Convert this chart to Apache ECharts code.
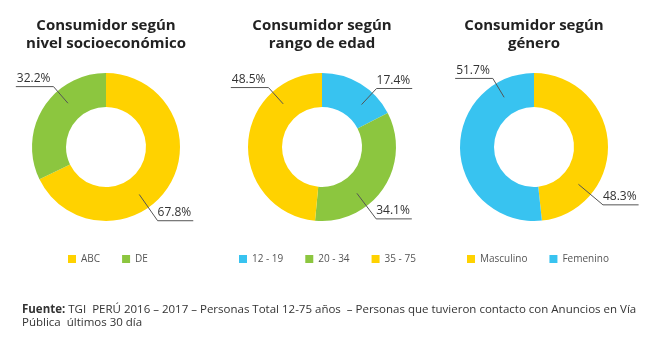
<!DOCTYPE html>
<html>
<head>
<meta charset="utf-8">
<script src="https://cdn.jsdelivr.net/npm/echarts@6/dist/echarts.min.js"></script>
<style>
  html, body { margin: 0; padding: 0; background: #fff; }
  #chart { width: 648px; height: 352px; }
</style>
</head>
<body>
<div id="chart"></div>
<script>
  // valores (%)
  var nseNames = ['ABC', 'DE'];
  var nseValues = [67.8, 32.2];
  var edadNames = ['12 - 19', '20 - 34', '35 - 75'];
  var edadValues = [17.4, 34.1, 48.5];
  var generoNames = ['Masculino', 'Femenino'];
  var generoValues = [48.3, 51.7];

  var amarillo = '#FFD200', verde = '#8CC63F', celeste = '#38C3F0';
  var font = "'Open Sans', sans-serif";

  var chartDom = document.getElementById('chart');
  var myChart = echarts.init(chartDom);

  function buildData(names, values, colors) {
    return names.map(function (n, i) {
      return { name: n, value: values[i], itemStyle: { color: colors ? colors[i] : 'rgba(0,0,0,0)' } };
    });
  }

  // línea quebrada: arranca dentro del anillo, sale en diagonal
  // y el texto queda apoyado sobre el tramo horizontal
  function labelLayoutFor(center, angles) {
    return function (params) {
      var a = angles[params.dataIndex] * Math.PI / 180;
      var sx = Math.sin(a), sy = -Math.cos(a);
      var r1 = sy > 0 ? 90 : 80;
      var p0 = [center[0] + 58 * sx, center[1] + 58 * sy];
      var p1 = [center[0] + r1 * sx, center[1] + r1 * sy];
      var w = params.labelRect.width;
      var right = sx > 0;
      var p2 = [right ? p1[0] + w + 2 : p1[0] - w - 4, p1[1]];
      return {
        x: right ? p1[0] : p1[0] - 3,
        y: p1[1] - 2,
        align: right ? 'left' : 'right',
        verticalAlign: 'bottom',
        labelLinePoints: [p0, p1, p2]
      };
    };
  }

  // anillo de colores
  function pieSeries(name, names, values, colors, center) {
    return {
      name: name,
      type: 'pie',
      radius: [40, 74],
      center: center,
      startAngle: 90,
      clockwise: true,
      silent: true,
      z: 2,
      data: buildData(names, values, colors),
      label: { show: false },
      labelLine: { show: false }
    };
  }

  // misma serie transparente encima, solo para que las líneas de etiqueta
  // queden dibujadas sobre el anillo
  function labelSeries(name, names, values, center, angles) {
    return {
      name: name + '-etiquetas',
      type: 'pie',
      radius: [40, 74],
      center: center,
      startAngle: 90,
      clockwise: true,
      silent: true,
      z: 3,
      avoidLabelOverlap: false,
      data: buildData(names, values, null),
      label: {
        show: true,
        position: 'outside',
        overflow: 'none',
        formatter: function (p) { return p.value.toFixed(1) + '%'; },
        color: '#333',
        fontSize: 12,
        fontFamily: font
      },
      labelLine: { show: true, length: 2, length2: 2, lineStyle: { color: '#555', width: 1 } },
      labelLayout: labelLayoutFor(center, angles)
    };
  }

  var titleStyle = { fontSize: 15, fontWeight: 'bold', color: '#222', lineHeight: 18, fontFamily: font };
  var legendCommon = {
    orient: 'horizontal',
    top: 254,
    padding: 0,
    itemWidth: 8,
    itemHeight: 8,
    itemGap: 22,
    icon: 'rect',
    selectedMode: false,
    textStyle: { fontSize: 10, color: '#555', fontFamily: font }
  };

  var c1 = [106, 147], c2 = [322, 147], c3 = [534, 147];

  var option = {
    backgroundColor: '#fff',
    animation: false,
    title: [
      { text: 'Consumidor según\nnivel socioeconómico', left: 106, top: 17, padding: 0, textAlign: 'center', textStyle: titleStyle },
      { text: 'Consumidor según\nrango de edad', left: 322, top: 17, padding: 0, textAlign: 'center', textStyle: titleStyle },
      { text: 'Consumidor según\ngénero', left: 534, top: 17, padding: 0, textAlign: 'center', textStyle: titleStyle },
      {
        text: '{b|Fuente:} TGI  PERÚ 2016 – 2017 – Personas Total 12-75 años  – Personas que tuvieron contacto con Anuncios en Vía\nPública  últimos 30 día',
        left: 22, top: 303, padding: 0,
        textStyle: {
          fontSize: 11.5, fontWeight: 'normal', color: '#333', lineHeight: 13, fontFamily: font,
          rich: { b: { fontSize: 11.5, fontWeight: 'bold', color: '#333', fontFamily: font, lineHeight: 13 } }
        }
      }
    ],
    legend: [
      Object.assign({ data: nseNames, left: 68 }, legendCommon),
      Object.assign({ data: edadNames, left: 239 }, legendCommon),
      Object.assign({ data: generoNames, left: 467 }, legendCommon)
    ],
    series: [
      pieSeries('nse', nseNames, nseValues, [amarillo, verde], c1),
      pieSeries('edad', edadNames, edadValues, [celeste, verde, amarillo], c2),
      pieSeries('genero', generoNames, generoValues, [amarillo, celeste], c3),
      labelSeries('nse', nseNames, nseValues, c1, [145, 319]),
      labelSeries('edad', edadNames, edadValues, c2, [43, 143, 318]),
      labelSeries('genero', generoNames, generoValues, c3, [130, 329])
    ]
  };

  option && myChart.setOption(option);
</script>
</body>
</html>
